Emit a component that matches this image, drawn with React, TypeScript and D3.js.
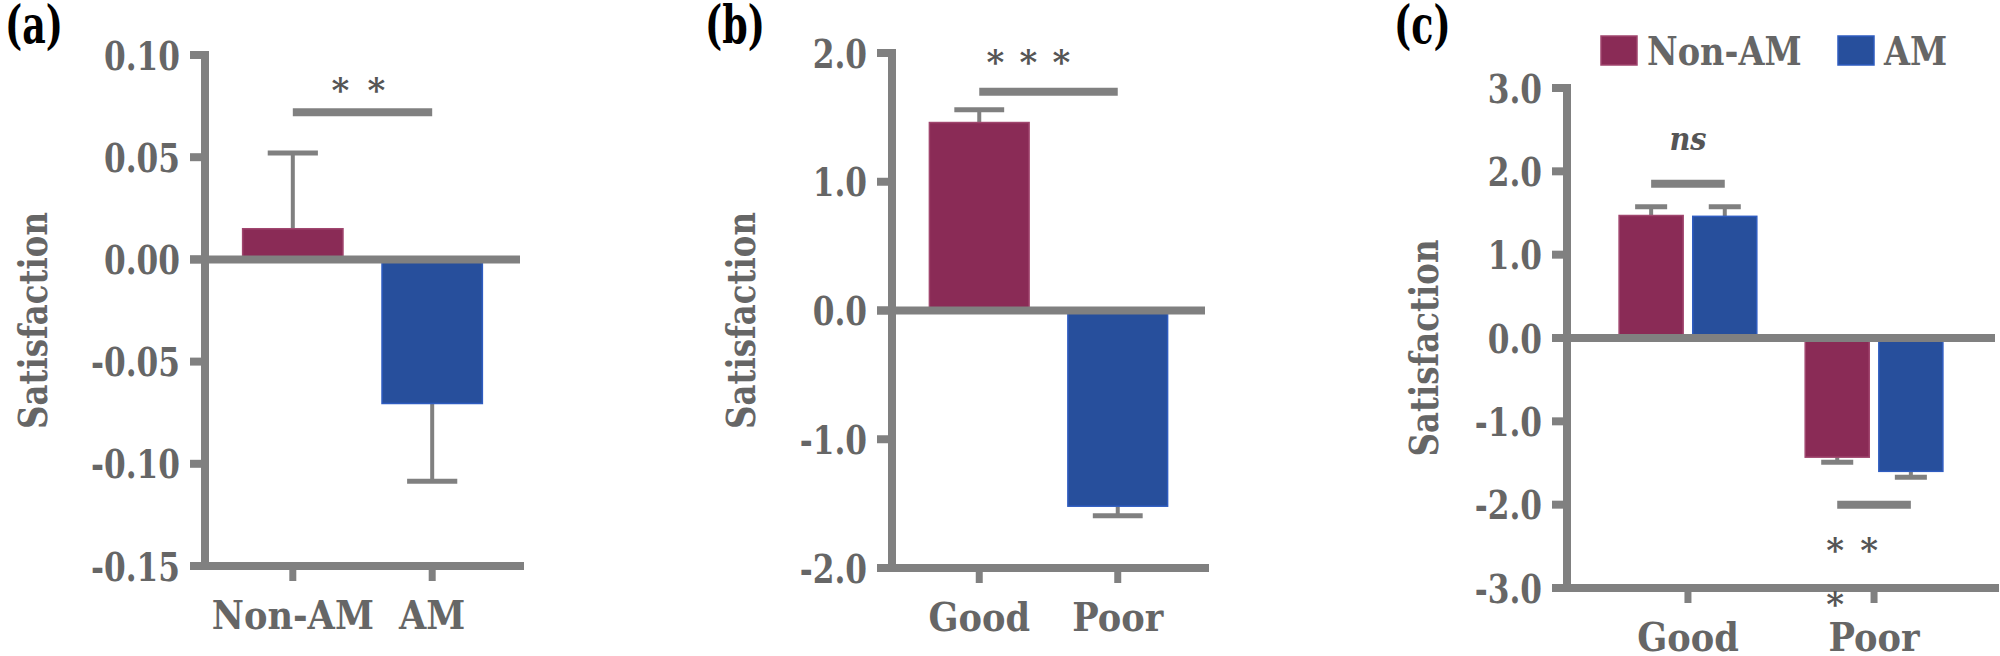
import { useEffect } from "react";
import type { ReactNode } from "react";
import * as d3 from "d3";

// panel (a)
const A_CATS = ["Non-AM", "AM"];
const A_MEANS = [0.015, -0.0705];
const A_ERRS = [0.037, 0.038];
const A_TICKS = [0.1, 0.05, 0, -0.05, -0.1, -0.15];

// panel (b)
const B_CATS = ["Good", "Poor"];
const B_MEANS = [1.46, -1.52];
const B_ERRS = [0.1, 0.075];
const B_TICKS = [2, 1, 0, -1, -2];

// panel (c)
const C_GROUPS = ["Good", "Poor"];
const C_SERIES = ["Non-AM", "AM"];
const C_NONAM = [1.47, -1.43];
const C_AM = [1.46, -1.6];
const C_NONAM_ERR = [0.105, 0.06];
const C_AM_ERR = [0.115, 0.07];
const C_TICKS = [3, 2, 1, 0, -1, -2, -3];

const COLORS = ["#8a2b56", "#274f9c"];
const STROKES = ["#a0466e", "#2f5cc0"];
const AXIS = "#808080";
const TEXT = "#666666";
const STAR = "#555555";
// only DejaVu Serif is a real serif here, so it is squeezed sideways to look like Times
const FONT = "'DejaVu Serif'";
const AW = 8; // axis line width

const fmt = (f: string) => (v: number) => d3.format(f)(v).replace("\u2212", "-");

type Frame = { x0: number; x1: number; top: number; bottom: number };

function T({ x, y, sx = 0.85, rot = 0, size = 40, anchor = "start", fill = TEXT, italic = false, children }: {
  x: number; y: number; sx?: number; rot?: number; size?: number; anchor?: string;
  fill?: string; italic?: boolean; children: ReactNode;
}) {
  return (
    <g transform={`translate(${x},${y}) rotate(${rot}) scale(${sx},1)`}>
      <text
        textAnchor={anchor}
        fontSize={size}
        fontWeight="bold"
        fontStyle={italic ? "italic" : undefined}
        fill={fill}
      >
        {children}
      </text>
    </g>
  );
}

function Axes({ y, ticks, format, frame, centers, cats, labelX }: {
  y: d3.ScaleLinear<number, number>;
  ticks: number[];
  format: (v: number) => string;
  frame: Frame;
  centers: number[];
  cats: string[];
  labelX: number;
}) {
  const { x0, x1, top, bottom } = frame;
  const mid = (top + bottom) / 2 + 10;
  return (
    <g>
      <line x1={x0} x2={x0} y1={top - AW / 2} y2={bottom + AW / 2} stroke={AXIS} strokeWidth={AW} />
      {ticks.map((t) => (
        <g key={t}>
          <line x1={x0 - 15} x2={x0} y1={y(t)} y2={y(t)} stroke={AXIS} strokeWidth={AW} />
          <T x={x0 - 25} y={y(t) + 14.5} anchor="end" sx={0.78}>{format(t)}</T>
        </g>
      ))}
      <line x1={x0 - 15} x2={x1 + 4} y1={bottom} y2={bottom} stroke={AXIS} strokeWidth={AW} />
      {centers.map((c, i) => (
        <g key={cats[i]}>
          <line x1={c} x2={c} y1={bottom} y2={bottom + 15} stroke={AXIS} strokeWidth={7} />
          <T x={c} y={bottom + 63} anchor="middle" sx={0.88}>{cats[i]}</T>
        </g>
      ))}
      <T x={labelX} y={mid} rot={-90} anchor="middle" sx={0.81}>Satisfaction</T>
    </g>
  );
}

function Bar({ x, w, v, err, y, i }: {
  x: number; w: number; v: number; err: number; y: d3.ScaleLinear<number, number>; i: number;
}) {
  const y0 = y(0);
  const yv = y(v);
  const ye = y(v >= 0 ? v + err : v - err);
  const cx = x + w / 2;
  return (
    <g>
      <line x1={cx} x2={cx} y1={yv} y2={ye} stroke={AXIS} strokeWidth={4} />
      <line x1={cx - w / 4} x2={cx + w / 4} y1={ye} y2={ye} stroke={AXIS} strokeWidth={5} />
      <rect
        x={x}
        y={Math.min(y0, yv)}
        width={w}
        height={Math.abs(yv - y0)}
        fill={COLORS[i]}
        stroke={STROKES[i]}
        strokeWidth={1.5}
      />
    </g>
  );
}

function Stars({ xs, cy }: { xs: number[]; cy: number }) {
  return (
    <g>
      {xs.map((x, i) => (
        <T key={i} x={x} y={cy + 20} anchor="middle" size={34} sx={1} fill={STAR}>*</T>
      ))}
    </g>
  );
}

function SimplePanel({ cats, means, errs, ticks, domain, frame, format, tag, tagX, labelX, sigY, starY, starOffsets }: {
  cats: string[]; means: number[]; errs: number[]; ticks: number[]; domain: [number, number];
  frame: Frame; format: (v: number) => string; tag: string; tagX: number; labelX: number;
  sigY: number; starY: number; starOffsets: number[];
}) {
  const y = d3.scaleLinear().domain(domain).range([frame.bottom, frame.top]);
  const x = d3.scaleBand<string>().domain(cats).range([frame.x0, frame.x1]).paddingInner(0.28).paddingOuter(0.27);
  const centers = cats.map((c) => x(c)! + x.bandwidth() / 2);
  const sigMid = (centers[0] + centers[1]) / 2;
  return (
    <g style={{ fontFamily: FONT }}>
      <T x={tagX} y={43} size={52} sx={0.7} fill="#000">{tag}</T>
      {cats.map((c, i) => (
        <Bar key={c} x={x(c)!} w={x.bandwidth()} v={means[i]} err={errs[i]} y={y} i={i} />
      ))}
      <line x1={frame.x0 - 15} x2={frame.x1} y1={y(0)} y2={y(0)} stroke={AXIS} strokeWidth={AW} />
      <Axes y={y} ticks={ticks} format={format} frame={frame} centers={centers} cats={cats} labelX={labelX} />
      <line x1={centers[0]} x2={centers[1]} y1={y(sigY)} y2={y(sigY)} stroke={AXIS} strokeWidth={AW} />
      <Stars xs={starOffsets.map((o) => sigMid + o)} cy={y(starY)} />
    </g>
  );
}

function GroupPanel() {
  const frame: Frame = { x0: 1567, x1: 1995, top: 88, bottom: 588 };
  const y = d3.scaleLinear().domain([-3, 3]).range([frame.bottom, frame.top]);
  const x = d3.scaleBand<string>().domain(C_GROUPS).range([frame.x0, frame.x1]).paddingInner(0.26).paddingOuter(0.28);
  const xs = d3.scaleBand<string>().domain(C_SERIES).range([0, x.bandwidth()]).paddingInner(0.13);
  const centers = C_GROUPS.map((g) => x(g)! + x.bandwidth() / 2);
  const vals = [C_NONAM, C_AM];
  const errs = [C_NONAM_ERR, C_AM_ERR];
  const sub = (g: string, s: string) => x(g)! + xs(s)! + xs.bandwidth() / 2;
  const goodA = sub("Good", "Non-AM");
  const goodB = sub("Good", "AM");
  const poorA = sub("Poor", "Non-AM");
  const poorB = sub("Poor", "AM");
  return (
    <g style={{ fontFamily: FONT }}>
      <T x={1394} y={43} size={52} sx={0.7} fill="#000">(c)</T>
      {/* legend */}
      {C_SERIES.map((s, i) => {
        const lx = [1601, 1838][i];
        return (
          <g key={s}>
            <rect x={lx} y={36} width={36} height={29} fill={COLORS[i]} stroke={STROKES[i]} strokeWidth={1.5} />
            <T x={lx + 46} y={65} sx={0.84}>{s}</T>
          </g>
        );
      })}
      {C_GROUPS.map((g, gi) =>
        C_SERIES.map((s, si) => (
          <Bar key={g + s} x={x(g)! + xs(s)!} w={xs.bandwidth()} v={vals[si][gi]} err={errs[si][gi]} y={y} i={si} />
        ))
      )}
      <line x1={frame.x0 - 15} x2={frame.x1} y1={y(0)} y2={y(0)} stroke={AXIS} strokeWidth={AW} />
      <Axes y={y} ticks={C_TICKS} format={fmt(".1f")} frame={frame} centers={centers} cats={C_GROUPS} labelX={1438} />
      {/* ns */}
      <line x1={goodA} x2={goodB} y1={y(1.85)} y2={y(1.85)} stroke={AXIS} strokeWidth={AW} />
      <T x={(goodA + goodB) / 2} y={y(2.26)} anchor="middle" size={32} sx={0.9} italic fill={STAR}>ns</T>
      {/* poor */}
      <line x1={poorA} x2={poorB} y1={y(-2)} y2={y(-2)} stroke={AXIS} strokeWidth={AW} />
      <Stars xs={[poorA - 2, poorA + 32]} cy={y(-2.45)} />
      <Stars xs={[poorA - 2]} cy={y(-3.1)} />
    </g>
  );
}

export default function App() {
  useEffect(() => {
    document.body.style.margin = "0";
  }, []);
  return (
    <svg width={2000} height={656} style={{ display: "block", background: "#fff" }}>
      <SimplePanel
        cats={A_CATS}
        means={A_MEANS}
        errs={A_ERRS}
        ticks={A_TICKS}
        domain={[-0.15, 0.1]}
        frame={{ x0: 205, x1: 520, top: 55, bottom: 566 }}
        format={fmt(".2f")}
        tag="(a)"
        tagX={5}
        labelX={47}
        sigY={0.072}
        starY={0.087}
        starOffsets={[-22, 14]}
      />
      <SimplePanel
        cats={B_CATS}
        means={B_MEANS}
        errs={B_ERRS}
        ticks={B_TICKS}
        domain={[-2, 2]}
        frame={{ x0: 892, x1: 1205, top: 53, bottom: 568 }}
        format={fmt(".1f")}
        tag="(b)"
        tagX={705}
        labelX={755}
        sigY={1.7}
        starY={1.99}
        starOffsets={[-53, -20, 13]}
      />
      <GroupPanel />
    </svg>
  );
}
